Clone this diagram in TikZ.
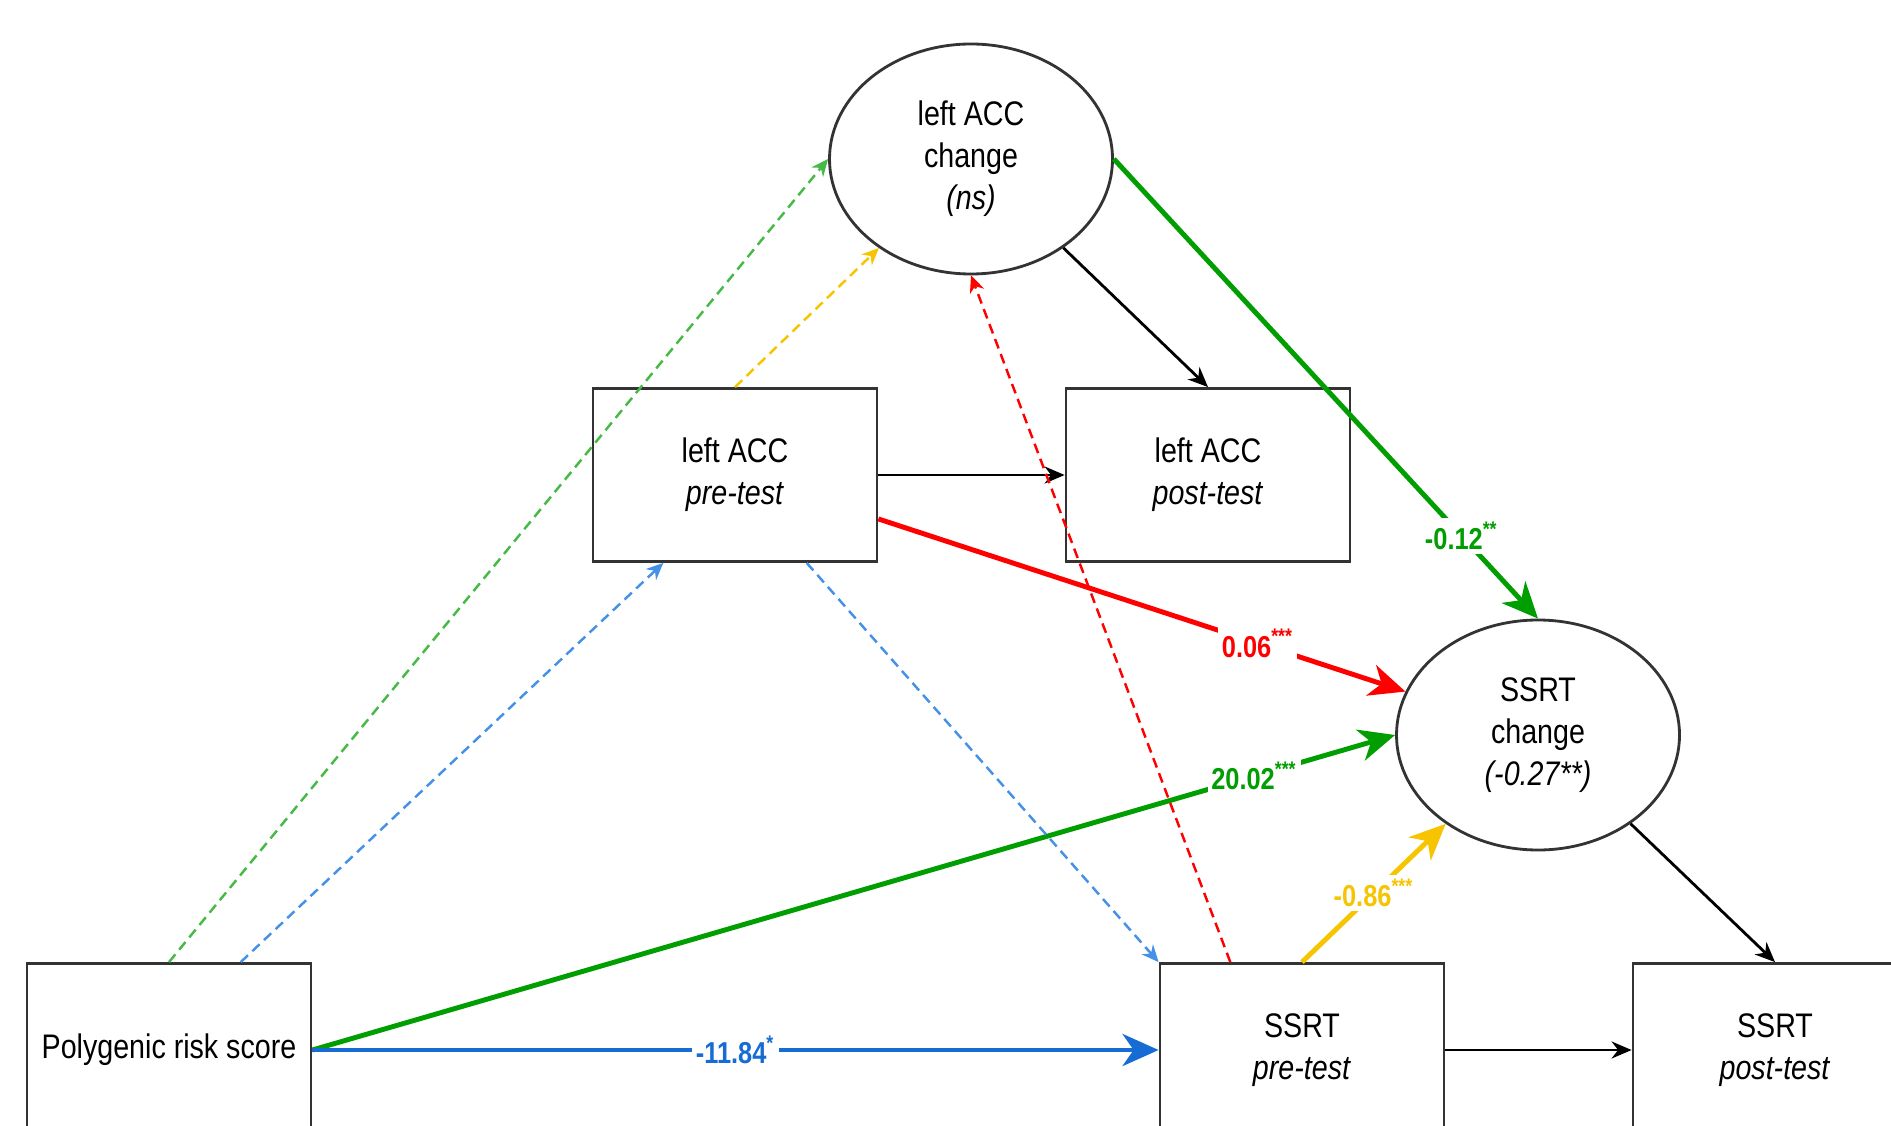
\documentclass[tikz,border=0pt]{standalone}
\usepackage{fontspec}
\setmainfont[FakeStretch=0.84]{Liberation Sans}
\usepackage{xcolor}
\usetikzlibrary{calc,arrows.meta,shapes.geometric}
\definecolor{pgreen}{RGB}{0,158,0}
\definecolor{pgreenl}{RGB}{70,185,70}
\definecolor{pblue}{RGB}{22,108,212}
\definecolor{pbluel}{RGB}{70,145,232}
\definecolor{pred}{RGB}{255,0,0}
\definecolor{pyellow}{RGB}{246,196,0}
\newcommand{\meas}[2]{\begin{tabular}{@{}c@{}}#1\\\textit{#2}\end{tabular}}
\newcommand{\chg}[2]{\begin{tabular}{@{}c@{}}#1\\change\\\textit{#2}\end{tabular}}
\newcommand{\est}[2]{\textbf{#1}\textsuperscript{\textbf{#2}}}

\begin{document}
\begin{tikzpicture}
  \tikzset{box/.style={draw=black!80, line width=0.8pt, minimum width=2.84cm, minimum height=1.73cm, inner sep=0pt, font=\fontsize{9.7}{12}\selectfont},
           lat/.style={box, ellipse, minimum width=2.83cm, minimum height=2.3cm},
           arr/.style={line width=0.8pt, -{Stealth[length=2mm,width=1.7mm]}},
           eff/.style={line width=1.4pt, -{Stealth[length=3.6mm,width=3.2mm,inset=1.1mm]}},
           ns/.style={line width=0.7pt, dash pattern=on 1mm off 0.6mm, -{Stealth[length=1.7mm,width=1.5mm]}},
           lbl/.style={fill=white, inner sep=1pt, font=\fontsize{8.6}{10}\selectfont}}
  \useasboundingbox (0,0) rectangle (18.91,11.25);
  \clip (0,0) rectangle (18.91,11.25);
  \node[lat] (accchg) at (9.71,9.66) {\chg{left ACC}{(ns)}};
  \node[box] (accpre) at (7.35,6.5) {\meas{left ACC}{pre-test}};
  \node[box] (accpost) at (12.08,6.5) {\meas{left ACC}{post-test}};
  \node[lat] (ssrtchg) at (15.38,3.9) {\chg{SSRT}{(-0.27**)}};
  \node[box] (prs) at (1.69,0.75) {Polygenic risk score};
  \node[box] (ssrtpre) at (13.02,0.75) {\meas{SSRT}{pre-test}};
  \node[box] (ssrtpost) at (17.75,0.75) {\meas{SSRT}{post-test}};
  \draw[arr] (accpre) -- (accpost);
  \draw[arr] (accchg) -- (accpost.north);
  \draw[arr] (ssrtpre) -- (ssrtpost);
  \draw[arr] (ssrtchg) -- (ssrtpost.north);
  \draw[eff, pgreen] (accchg.east) -- node[lbl, pos=0.82]{\est{-0.12}{**}} (ssrtchg.north);
  \draw[eff, pred] ($(accpre.east)!0.5!(accpre.south east)$) -- node[lbl, pos=0.72]{\est{0.06}{***}} (ssrtchg);
  \draw[eff, pgreen] (prs.east) -- node[lbl, pos=0.87]{\est{20.02}{***}} (ssrtchg.west);
  \draw[eff, pblue] (prs) -- node[lbl]{\est{-11.84}{*}} (ssrtpre);
  \draw[eff, pyellow] (ssrtpre.north) -- node[lbl]{\est{-0.86}{***}} (ssrtchg);
  \draw[ns, pgreenl] (prs.north) -- (accchg.west);
  \draw[ns, pbluel] ($(prs.north)!0.5!(prs.north east)$) -- ($(accpre.south)!0.5!(accpre.south west)$);
  \draw[ns, pyellow] (accpre.north) -- (accchg);
  \draw[ns, pbluel] ($(accpre.south)!0.5!(accpre.south east)$) -- (ssrtpre.north west);
  \draw[ns, pred] ($(ssrtpre.north west)!0.5!(ssrtpre.north)$) -- (accchg.south);
\end{tikzpicture}
\end{document}
